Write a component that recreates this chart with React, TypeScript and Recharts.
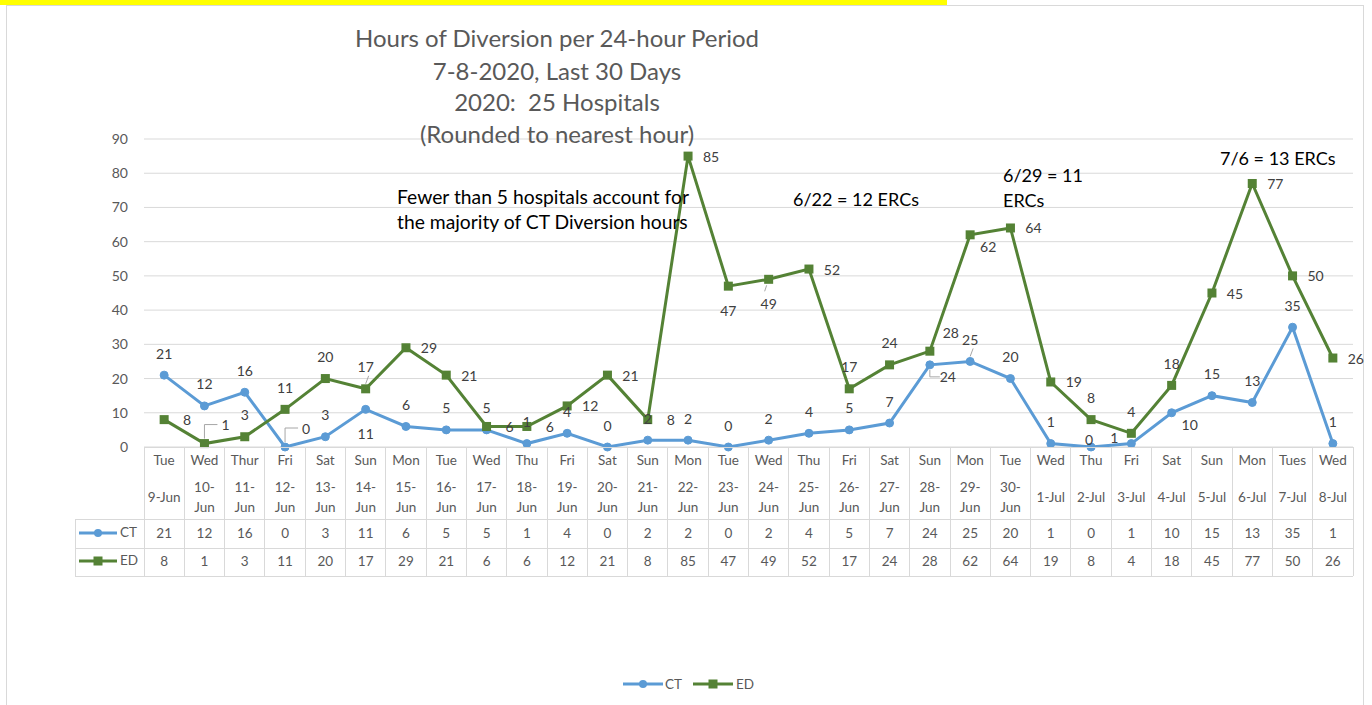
import React from 'react';
import { LineChart, Line, XAxis, YAxis, CartesianGrid, Legend } from 'recharts';

const days = ['Tue','Wed','Thur','Fri','Sat','Sun','Mon','Tue','Wed','Thu','Fri','Sat','Sun','Mon','Tue','Wed','Thu','Fri','Sat','Sun','Mon','Tue','Wed','Thu','Fri','Sat','Sun','Mon','Tues','Wed'];
const dates = ['9-Jun','10-Jun','11-Jun','12-Jun','13-Jun','14-Jun','15-Jun','16-Jun','17-Jun','18-Jun','19-Jun','20-Jun','21-Jun','22-Jun','23-Jun','24-Jun','25-Jun','26-Jun','27-Jun','28-Jun','29-Jun','30-Jun','1-Jul','2-Jul','3-Jul','4-Jul','5-Jul','6-Jul','7-Jul','8-Jul'];
const ctValues = [21,12,16,0,3,11,6,5,5,1,4,0,2,2,0,2,4,5,7,24,25,20,1,0,1,10,15,13,35,1];
const edValues = [8,1,3,11,20,17,29,21,6,6,12,21,8,85,47,49,52,17,24,28,62,64,19,8,4,18,45,77,50,26];
const yTicks = [0,10,20,30,40,50,60,70,80,90];

// label placement keywords (style only)
const ctLabelPlace = ['T','T','T','TR*','T','B','T','T','T','T','T','T','T','T','T','T','T','T','T','BR*','T*','T','T','T0','L','BR','T','T','T','T'];
const edLabelPlace = ['R','TR*','T','T','T','T*','R','R','R','R','R','R','R','R','B','B*','R','T','T','TR','BR','R','R','T','T','T','R','R','R','R'];

const titleLines = ['Hours of Diversion per 24-hour Period','7-8-2020, Last 30 Days','2020:  25 Hospitals','(Rounded to nearest hour)'];

const CT_COLOR = '#5B9BD5';
const ED_COLOR = '#548235';
const GRID = '#D9D9D9';
const TEXT = '#595959';
const FONT = 'Lato, "Open Sans", sans-serif';

const W = 1372;
const H = 705;
const PLOT_L = 144;
const PLOT_R = 1353;
const PLOT_T = 139;
const PLOT_B = 447;
const PLOT_W = PLOT_R - PLOT_L;
const COL_W = PLOT_W / 30;
const Y_AXIS_W = 40;
const X_AXIS_H = 140;

const data = days.map((d, i) => ({ day: d, date: dates[i], CT: ctValues[i], ED: edValues[i] }));

const OFFS: Record<string, [number, number]> = {
  T: [0, -22], T0: [-2, -8], B: [0, 24], R: [23, 0], L: [-17, -6], TR: [21, -19], BR: [18, 12],
};

function makeLabel(places: string[]) {
  return (p: any) => {
    const { x, y, value, index } = p;
    if (x == null || y == null) return null;
    const raw = places[index] || 'T';
    const leader = raw.endsWith('*');
    const key = raw.replace('*', '');
    const [dx, dy] = OFFS[key] || OFFS.T;
    const lx = x + dx;
    const ly = y + dy;
    let lead = null;
    if (leader) {
      if (key === 'TR' || key === 'BR') {
        const ey = ly;
        lead = <polyline points={`${x},${y + (key === 'TR' ? -5 : 5)} ${x},${ey} ${lx - 8},${ey}`} fill="none" stroke="#A6A6A6" strokeWidth={1} />;
      } else if (key === 'T') {
        lead = <line x1={x} y1={y - 5} x2={x + 3} y2={y - 13} stroke="#A6A6A6" strokeWidth={1} />;
      } else if (key === 'B') {
        lead = <line x1={x - 2} y1={y + 6} x2={x - 4} y2={y + 12} stroke="#A6A6A6" strokeWidth={1} />;
      }
    }
    return (
      <g key={`lbl-${index}`}>
        {lead}
        <text x={lx} y={ly} textAnchor="middle" dominantBaseline="central" fontSize={14} fill="#404040" fontFamily={FONT}>{value}</text>
      </g>
    );
  };
}

const squareDot = (p: any) => {
  const { cx, cy, index } = p;
  if (cx == null || cy == null) return null;
  return <rect key={`sq-${index}`} x={cx - 4.5} y={cy - 4.5} width={9} height={9} fill={ED_COLOR} />;
};

const TableTick = (props: any) => {
  const { x, y, index } = props;
  const half = COL_W / 2;
  const l = x - half;
  const r = x + half;
  const r1 = y + 72;
  const r2 = y + 101;
  const r3 = y + 129;
  const date = dates[index];
  const wrap = date.length > 5;
  const parts = wrap ? [date.slice(0, date.indexOf('-') + 1), date.slice(date.indexOf('-') + 1)] : [date];
  const tf = { textAnchor: 'middle' as const, dominantBaseline: 'central' as const, fontSize: 13.5, fill: TEXT, fontFamily: FONT };
  const labelL = PLOT_L - 69;
  return (
    <g shapeRendering="crispEdges">
      <line x1={l} x2={l} y1={y} y2={r3} stroke={GRID} />
      {index === 29 && <line x1={r} x2={r} y1={y} y2={r3} stroke={GRID} />}
      <line x1={l} x2={r} y1={y} y2={y} stroke={GRID} />
      <line x1={l} x2={r} y1={r1} y2={r1} stroke={GRID} />
      <line x1={l} x2={r} y1={r2} y2={r2} stroke={GRID} />
      <line x1={l} x2={r} y1={r3} y2={r3} stroke={GRID} />
      <g shapeRendering="auto">
        <text x={x} y={y + 13} {...tf}>{days[index]}</text>
        {wrap ? (
          <>
            <text x={x} y={y + 40} {...tf}>{parts[0]}</text>
            <text x={x} y={y + 60} {...tf}>{parts[1]}</text>
          </>
        ) : (
          <text x={x} y={y + 50} {...tf}>{parts[0]}</text>
        )}
        <text x={x} y={y + 86} {...tf}>{ctValues[index]}</text>
        <text x={x} y={y + 114} {...tf}>{edValues[index]}</text>
      </g>
      {index === 0 && (
        <g>
          <line x1={labelL} x2={l} y1={r1} y2={r1} stroke={GRID} />
          <line x1={labelL} x2={l} y1={r2} y2={r2} stroke={GRID} />
          <line x1={labelL} x2={l} y1={r3} y2={r3} stroke={GRID} />
          <line x1={labelL} x2={labelL} y1={r1} y2={r3} stroke={GRID} />
          <g shapeRendering="auto">
            <line x1={labelL + 4} x2={labelL + 42} y1={y + 86} y2={y + 86} stroke={CT_COLOR} strokeWidth={3} />
            <circle cx={labelL + 23} cy={y + 86} r={4} fill={CT_COLOR} />
            <text x={labelL + 45} y={y + 85} dominantBaseline="central" fontSize={13.5} fill={TEXT} fontFamily={FONT}>CT</text>
            <line x1={labelL + 4} x2={labelL + 42} y1={y + 114} y2={y + 114} stroke={ED_COLOR} strokeWidth={3} />
            <rect x={labelL + 18.5} y={y + 109.5} width={9} height={9} fill={ED_COLOR} />
            <text x={labelL + 45} y={y + 113} dominantBaseline="central" fontSize={13.5} fill={TEXT} fontFamily={FONT}>ED</text>
          </g>
        </g>
      )}
    </g>
  );
};

const LegendContent = () => (
  <svg width={W} height={20} style={{ display: 'block' }}>
    <g fontFamily={FONT} fontSize={13.5} fill={TEXT}>
      <line x1={623} x2={663} y1={10} y2={10} stroke={CT_COLOR} strokeWidth={3} />
      <circle cx={643} cy={10} r={4} fill={CT_COLOR} />
      <text x={665} y={10} dominantBaseline="central">CT</text>
      <line x1={693} x2={733} y1={10} y2={10} stroke={ED_COLOR} strokeWidth={3} />
      <rect x={708.5} y={5.5} width={9} height={9} fill={ED_COLOR} />
      <text x={736} y={10} dominantBaseline="central">ED</text>
    </g>
  </svg>
);

export default function App() {
  return (
    <div style={{ position: 'absolute', left: 0, top: 0, width: W, height: H, overflow: 'hidden', background: '#fff' }}>
      <div style={{ position: 'absolute', left: 0, top: 0, width: 947, height: 5, background: '#FFFF00' }} />
      <div style={{ position: 'absolute', left: 6, top: 5, width: 1358, height: 720, border: '1px solid #D9D9D9', boxSizing: 'border-box' }} />
      <div style={{ position: 'absolute', left: 0, top: 0 }}>
        <LineChart
          width={W}
          height={H}
          data={data}
          margin={{ top: PLOT_T, right: W - PLOT_R, bottom: H - PLOT_B - X_AXIS_H, left: PLOT_L - Y_AXIS_W }}
        >
          <CartesianGrid horizontal vertical={false} stroke={GRID} />
          <XAxis
            dataKey="date"
            scale="point"
            padding={{ left: COL_W / 2, right: COL_W / 2 }}
            axisLine={false}
            tickLine={false}
            tickSize={0}
            tickMargin={0}
            interval={0}
            height={X_AXIS_H}
            tick={<TableTick />}
          />
          <YAxis
            domain={[0, 90]}
            ticks={yTicks}
            width={Y_AXIS_W}
            axisLine={false}
            tickLine={false}
            tickSize={0}
            tickMargin={16}
            tick={{ fontSize: 14, fill: TEXT, fontFamily: FONT }}
          />
          <Legend
            layout="horizontal"
            verticalAlign="middle"
            align="center"
            wrapperStyle={{ position: 'absolute', top: 674, left: 0, width: W }}
            content={<LegendContent />}
          />
          <Line type="linear" dataKey="CT" stroke={CT_COLOR} strokeWidth={3} isAnimationActive={false}
            dot={{ r: 4, fill: CT_COLOR, stroke: CT_COLOR, strokeWidth: 1 }} activeDot={false}
            label={makeLabel(ctLabelPlace)} />
          <Line type="linear" dataKey="ED" stroke={ED_COLOR} strokeWidth={3} isAnimationActive={false}
            dot={squareDot} activeDot={false}
            label={makeLabel(edLabelPlace)} />
        </LineChart>
      </div>
      <svg width={W} height={H} style={{ position: 'absolute', left: 0, top: 0, pointerEvents: 'none' }}>
        <g fontFamily={FONT} fill={TEXT} fontSize={24} textAnchor="middle">
          {titleLines.map((t, i) => (
            <text key={i} x={557} y={[37, 70, 101, 133][i]} dominantBaseline="central" xmlSpace="preserve">{t}</text>
          ))}
        </g>
        <g fontFamily={FONT} fill="#000">
          <text x={397} y={196} fontSize={19.3} dominantBaseline="central">Fewer than 5 hospitals account for</text>
          <text x={397} y={221} fontSize={19.3} dominantBaseline="central">the majority of CT Diversion hours</text>
          <text x={793} y={199} fontSize={18} dominantBaseline="central">6/22 = 12 ERCs</text>
          <text x={1003} y={175} fontSize={18} dominantBaseline="central">6/29 = 11</text>
          <text x={1003} y={200} fontSize={18} dominantBaseline="central">ERCs</text>
          <text x={1220} y={158} fontSize={18} dominantBaseline="central">7/6 = 13 ERCs</text>
        </g>
      </svg>
    </div>
  );
}
